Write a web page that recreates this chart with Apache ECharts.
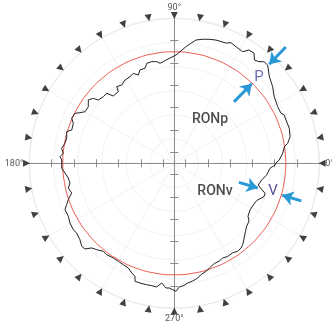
<!DOCTYPE html>
<html>
<head>
<meta charset="utf-8">
<script src="https://cdn.jsdelivr.net/npm/echarts@6/dist/echarts.min.js"></script>
<style>
  html, body { margin: 0; padding: 0; background: #fff; }
  #chart { width: 332px; height: 326px; }
</style>
</head>
<body>
<div id="chart"></div>
<script>
// Measured roundness profile: polar angle (deg, CCW from 0°) and radius (units)
const profileAngle = [
  0.2, 1.7, 5.3, 8.6, 10.0, 12.9, 16.9, 21.2, 23.7, 25.1, 28.7, 33.7, 37.9, 42.3, 46.5, 48.6,
  50.2, 52.2, 54.1, 56.6, 58.5, 62.1, 64.8, 66.7, 71.3, 74.4, 77.1, 80.0, 82.1, 84.3, 89.1,
  94.6, 96.2, 98.1, 99.8, 100.9, 102.5, 105.4, 107.1, 110.2, 112.2, 114.5, 117.1, 120.6, 123.9,
  126.9, 128.0, 132.2, 134.0, 136.8, 140.2, 141.3, 143.6, 146.7, 150.0, 151.8, 153.3, 156.3,
  158.4, 162.0, 163.6, 164.2, 166.9, 169.6, 172.4, 174.9, 176.7, 178.3, 182.4, 185.1, 187.9,
  190.7, 193.1, 196.1, 198.9, 201.0, 203.0, 206.6, 209.8, 213.3, 215.5, 219.0, 221.9, 223.8,
  225.7, 228.1, 231.1, 233.5, 237.2, 240.3, 243.3, 246.3, 248.8, 250.8, 251.6, 254.0, 257.2,
  259.5, 261.9, 264.0, 266.2, 267.7, 269.3, 270.8, 272.3, 274.5, 276.4, 278.9, 281.5, 283.5,
  286.4, 288.5, 291.8, 294.7, 297.1, 299.8, 303.1, 305.8, 308.2, 310.0, 312.2, 316.2, 318.8,
  322.3, 324.3, 328.3, 332.2, 335.7, 336.4, 339.6, 341.7, 343.9, 345.5, 349.2, 352.8, 357.0,
  359.0, 360.2
];
const profileRadius = [
  9.12, 9.40, 9.77, 9.98, 10.33, 10.65, 10.78, 10.74, 10.77, 10.57, 10.57, 10.77, 11.18, 11.53, 12.16, 12.15,
  11.86, 11.72, 12.20, 12.17, 11.74, 11.83, 11.95, 11.74, 11.67, 11.55, 11.41, 11.23, 10.87, 10.51, 9.71,
  9.29, 9.17, 9.06, 9.25, 9.13, 9.34, 9.30, 8.92, 8.92, 8.55, 8.87, 8.72, 8.68, 8.46,
  8.59, 8.15, 8.15, 8.73, 8.73, 8.87, 9.31, 9.58, 9.23, 9.25, 9.60, 9.97, 10.05,
  9.74, 9.67, 10.06, 9.88, 9.91, 9.97, 10.19, 10.00, 10.27, 10.10, 10.11, 9.84, 9.60,
  9.52, 9.76, 9.58, 10.05, 10.34, 10.65, 10.63, 10.78, 10.84, 10.76, 10.89, 11.15, 11.10,
  10.61, 10.41, 10.14, 10.20, 10.10, 10.12, 10.18, 10.26, 10.55, 10.73, 11.15, 11.17, 11.17,
  11.16, 11.20, 10.80, 11.21, 11.19, 11.34, 11.48, 11.10, 11.00, 10.80, 10.68, 10.50, 10.26,
  10.10, 9.90, 9.68, 9.65, 9.54, 9.63, 9.58, 9.73, 9.67, 9.54, 9.28, 8.84, 8.61,
  8.47, 8.14, 7.98, 8.01, 8.11, 8.22, 8.58, 8.57, 8.07, 7.78, 7.98, 8.35, 8.59,
  9.03, 9.12
];

// Reference (least-squares) circle radius
const refRadius = 10;
const refCircleAngles = [0, 10, 20, 30, 40, 50, 60, 70, 80, 90, 100, 110, 120, 130, 140, 150, 160, 170,
  180, 190, 200, 210, 220, 230, 240, 250, 260, 270, 280, 290, 300, 310, 320, 330, 340, 350, 360];

// Outer angular markers every 10°
const markerAngles = [0, 10, 20, 30, 40, 50, 60, 70, 80, 90, 100, 110, 120, 130, 140, 150, 160, 170,
  180, 190, 200, 210, 220, 230, 240, 250, 260, 270, 280, 290, 300, 310, 320, 330, 340, 350];
const markerRadius = 13.25;

// Crosshair tick positions (units)
const crossTicks = [-11, -9, -7, -5, -3, -1, 1, 3, 5, 7, 9, 11];
const outerRadius = 13;

// Angle labels
const angleLabelValues = [0, 90, 180, 270];

// Peak / valley arrows: [angle, fromRadius, toRadius]
const arrows = [
  [46.2, 14.45, 12.30],
  [45.8, 7.68, 9.96],
  [343.5, 6.04, 7.80],
  [343.5, 11.88, 10.10]
];
// Text annotations: [text, radius, angle]
const notes = [
  ['P', 10.85, 45.5],
  ['V', 9.2, 344.0],
  ['RONp', 5.1, 51.1],
  ['RONv', 4.44, 325.3]
];

const UNIT = 11.15;            // px per unit
const CX = 174.3, CY = 163.3;  // plot centre (px)
const OUTER_MAX = 15;          // radius extent of the data polar

const chart = echarts.init(document.getElementById('chart'), null, { renderer: 'canvas' });

const axisGray = '#8c8c8c';
const gridGray = '#f2f2f2';
const arrowBlue = '#2a98d6';

const crossAxisCommon = (inside) => ({
  type: 'value', min: -outerRadius, max: outerRadius,
  axisLine: { show: true, onZero: true, onZeroAxisIndex: 0, lineStyle: { color: axisGray, width: 1 } },
  axisTick: { show: true, inside: inside, length: 4, customValues: crossTicks, lineStyle: { color: axisGray, width: 1 } },
  axisLabel: { show: false },
  splitLine: { show: false }
});

const option = {
  backgroundColor: '#ffffff',
  animation: false,
  polar: [
    { center: [CX, CY], radius: outerRadius * UNIT },
    { center: [CX, CY], radius: OUTER_MAX * UNIT }
  ],
  angleAxis: [
    {
      polarIndex: 0, type: 'value', min: 0, max: 360, interval: 30,
      startAngle: 0, clockwise: false,
      axisLine: { show: true, lineStyle: { color: '#e9e9e9', width: 1 } },
      axisTick: { show: false },
      axisLabel: {
        show: true, margin: 6, color: '#555', fontSize: 9, fontFamily: 'Roboto',
        formatter: v => (angleLabelValues.indexOf(v) >= 0 ? v + '°' : '')
      },
      splitLine: { show: true, lineStyle: { color: gridGray, width: 1 } }
    },
    {
      polarIndex: 1, type: 'value', min: 0, max: 360,
      startAngle: 0, clockwise: false, show: false
    }
  ],
  radiusAxis: [
    {
      polarIndex: 0, type: 'value', min: 0, max: outerRadius, interval: outerRadius / 6,
      axisLine: { show: false }, axisTick: { show: false }, axisLabel: { show: false },
      splitLine: { show: true, lineStyle: { color: gridGray, width: 1 } }
    },
    {
      polarIndex: 1, type: 'value', min: 0, max: OUTER_MAX, show: false,
      splitLine: { show: false }
    }
  ],
  grid: {
    left: CX - outerRadius * UNIT, top: CY - outerRadius * UNIT,
    width: 2 * outerRadius * UNIT, height: 2 * outerRadius * UNIT
  },
  xAxis: [
    Object.assign(crossAxisCommon(false), { position: 'bottom' }),
    Object.assign(crossAxisCommon(true), { position: 'bottom' })
  ],
  yAxis: [
    Object.assign(crossAxisCommon(false), { position: 'left' }),
    Object.assign(crossAxisCommon(true), { position: 'left' })
  ],
  series: [
    {
      name: 'reference', type: 'line', coordinateSystem: 'polar', polarIndex: 1,
      data: refCircleAngles.map(a => [refRadius, a]),
      smooth: true, showSymbol: false, silent: true,
      lineStyle: { color: '#e8584f', width: 1 }
    },
    {
      name: 'profile', type: 'line', coordinateSystem: 'polar', polarIndex: 1,
      data: profileAngle.map((a, i) => [profileRadius[i], a]),
      showSymbol: false, silent: true,
      lineStyle: { color: '#222222', width: 1 },
      markLine: {
        silent: true, animation: false,
        symbol: ['none', 'arrow'], symbolSize: [11, 11],
        label: { show: false },
        lineStyle: { color: arrowBlue, width: 3, type: 'solid' },
        data: arrows.map(a => [{ coord: [a[1], a[0]] }, { coord: [a[2], a[0]] }])
      }
    },
    {
      name: 'markers', type: 'scatter', coordinateSystem: 'polar', polarIndex: 1,
      clip: false, silent: true,
      symbol: 'triangle', symbolSize: [7, 7],
      itemStyle: { color: '#111' },
      data: markerAngles.map(a => ({ value: [markerRadius, a], symbolRotate: a + 90 }))
    },
    {
      name: 'notes', type: 'scatter', coordinateSystem: 'polar', polarIndex: 1,
      clip: false, silent: true, symbolSize: 0,
      data: notes.map(n => ({
        name: n[0], value: [n[1], n[2]],
        label: {
          show: true, position: 'inside', formatter: '{b}',
          fontFamily: 'Roboto',
          fontSize: n[0].length > 1 ? 14 : 15,
          fontWeight: n[0].length > 1 ? 500 : 400,
          color: n[0] === 'P' ? '#4a4aa0' : (n[0] === 'V' ? '#2c2c7c' : '#1e1e1e')
        }
      }))
    }
  ]
};

chart.setOption(option);
</script>
</body>
</html>
